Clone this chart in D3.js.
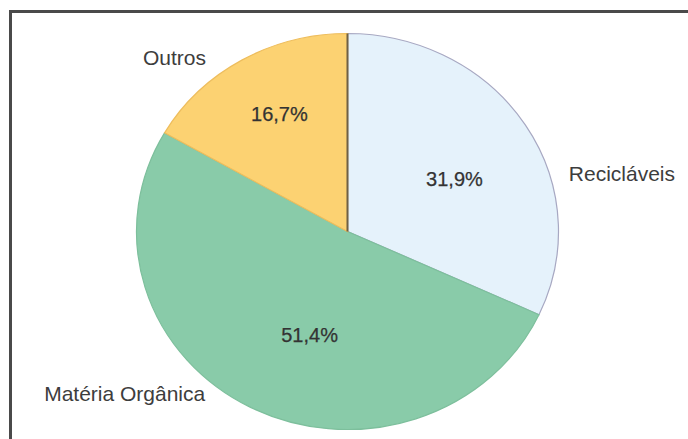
<!DOCTYPE html>
<html>
  <head>
    <meta charset="utf-8">
    <title>Composição do lixo</title>
    <style>
      body { margin: 0; background: #fff; }
      svg { display: block; }
    </style>
  </head>
  <body>
    <svg width="688" height="439"></svg>
    <script src="https://cdn.jsdelivr.net/npm/d3@7/dist/d3.min.js"></script>
    <script>
      // dados
      var categories = ["Recicláveis", "Matéria Orgânica", "Outros"];
      var values = [31.9, 51.4, 16.7];
      var valueLabels = ["31,9%", "51,4%", "16,7%"];

      var colors = ["#e5f2fb", "#89cba9", "#fcd272"];
      var strokes = ["#a7a8c2", "#7dbf9c", "#eebd5c"];

      var svg = d3.select("svg");
      var width = +svg.attr("width");
      var height = +svg.attr("height");

      // moldura (so topo e esquerda aparecem no recorte)
      svg.append("path")
        .attr("d", "M10.5," + height + "V11.5H" + width)
        .attr("fill", "none")
        .attr("stroke", "#4a4a4a")
        .attr("stroke-width", 3);

      var cx = 347.5, cy = 231.5;
      var ry = 198, rx = 211;   // a pizza esta levemente achatada
      var sx = rx / ry;

      var g = svg.append("g")
        .attr("transform", "translate(" + cx + "," + cy + ")");
      var pieG = g.append("g")
        .attr("transform", "scale(" + sx + ",1)");

      var pie = d3.pie().sort(null).value(function(d){ return d; });
      var arcs = pie(values);
      var arc = d3.arc().innerRadius(0).outerRadius(ry);

      pieG.selectAll("path")
        .data(arcs)
        .enter()
        .append("path")
        .attr("d", arc)
        .attr("fill", function(d,i){ return colors[i]; })
        .attr("stroke", function(d,i){ return strokes[i]; })
        .attr("stroke-width", 1.2)
        .attr("vector-effect", "non-scaling-stroke");

      // linha escura entre Outros e Reciclaveis
      pieG.append("line")
        .attr("x1", 0).attr("y1", 0)
        .attr("x2", 0).attr("y2", -ry)
        .attr("stroke", "#6e6147")
        .attr("stroke-width", 2)
        .attr("vector-effect", "non-scaling-stroke");

      // posicao dos rotulos (ajuste manual, como no grafico original)
      var pctPlace = [{da: 5.0, k: 0.572}, {da: -8.4, k: 0.553}, {da: 1.5, k: 0.675}];
      var namePlace = [
        {da: 17.0, k: 1.089, anchor: "start"},
        {da: 12.1, k: 1.061, anchor: "end"},
        {da: -7.3, k: 1.105, anchor: "end"}
      ];

      function place(d, p){
        var a = (d.startAngle + d.endAngle) / 2 + p.da * Math.PI / 180;
        return [Math.sin(a) * ry * p.k * sx, -Math.cos(a) * ry * p.k];
      }

      g.selectAll(".pct")
        .data(arcs)
        .enter()
        .append("text")
        .attr("class", "pct")
        .attr("transform", function(d,i){ return "translate(" + place(d, pctPlace[i]) + ")"; })
        .attr("dy", "0.35em")
        .attr("text-anchor", "middle")
        .style("font-family", "'Liberation Sans', Arial, sans-serif")
        .style("font-size", "20px")
        .attr("fill", "#333")
        .attr("stroke", "#333")
        .attr("stroke-width", 0.25)
        .text(function(d,i){ return valueLabels[i]; });

      g.selectAll(".name")
        .data(arcs)
        .enter()
        .append("text")
        .attr("class", "name")
        .attr("transform", function(d,i){ return "translate(" + place(d, namePlace[i]) + ")"; })
        .attr("dy", "0.35em")
        .attr("text-anchor", function(d,i){ return namePlace[i].anchor; })
        .style("font-family", "'Liberation Sans', Arial, sans-serif")
        .style("font-size", "21px")
        .attr("fill", "#3d3d3d")
        .text(function(d,i){ return categories[i]; });
    </script>
  </body>
</html>
